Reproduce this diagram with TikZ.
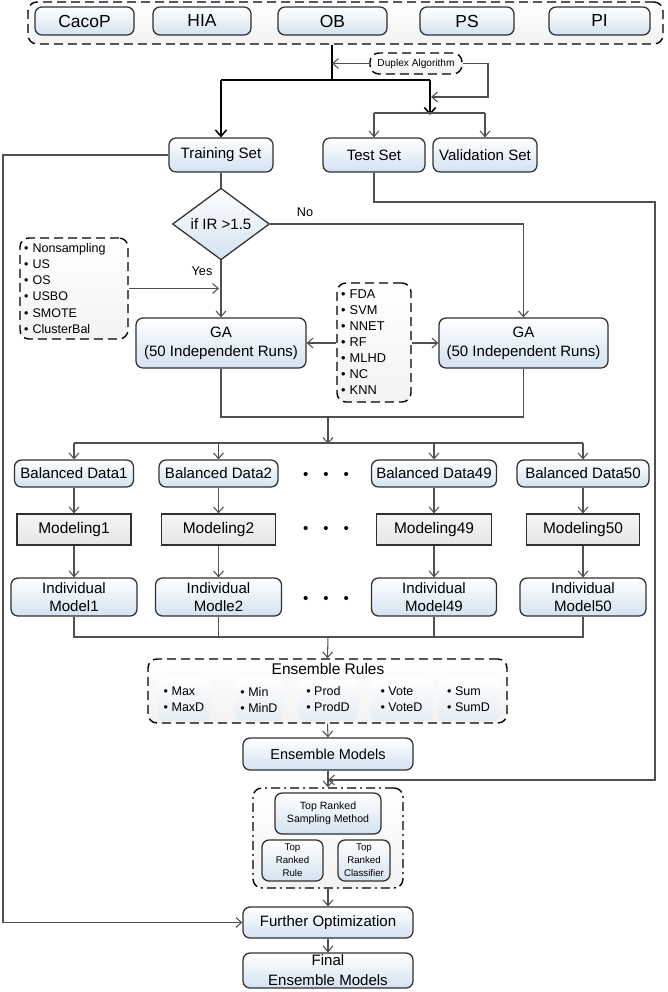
\documentclass[tikz,border=0pt]{standalone}
\usepackage{fontspec}
\setmainfont{Liberation Sans}
\usetikzlibrary{shapes.geometric,arrows.meta}
\newlength\pxu
\setlength\pxu{0.025cm}
\definecolor{boxblue}{HTML}{D3E2F1}
\definecolor{boxgray}{HTML}{E6E6E6}
\definecolor{cellblue}{HTML}{E4ECF4}
\definecolor{linegray}{HTML}{505050}
\definecolor{edgedark}{HTML}{303030}
\tikzset{
  sz/.style 2 args={minimum width=#1\pxu,minimum height=#2\pxu},
  blockbox/.style={draw=edgedark,line width=0.9pt,rounded corners=7\pxu,
    top color=white,bottom color=boxblue,inner sep=0pt,align=center,
    font=\fontsize{10.7}{12.8}\selectfont},
  modelbox/.style={draw=edgedark,line width=0.9pt,top color=white!60!boxgray,
    bottom color=boxgray,inner sep=0pt,font=\fontsize{11}{13}\selectfont},
  groupbox/.style={draw=black,line width=1pt,dash pattern=on 9\pxu off 5\pxu,
    rounded corners=9\pxu,top color=white,bottom color=gray!10,inner sep=0pt},
  listbox/.style={groupbox,align=left,inner xsep=4\pxu,
    font=\fontsize{8.9}{11.4}\selectfont},
  rulecell/.style={rounded corners=7\pxu,top color=white,bottom color=cellblue,
    inner sep=0pt,align=left,font=\fontsize{8.9}{11.4}\selectfont},
  decision/.style={diamond,draw=edgedark,line width=0.9pt,top color=white,
    bottom color=boxblue,inner sep=0pt,font=\fontsize{10.7}{12.8}\selectfont},
  dotrow/.style={inner sep=0pt,font=\fontsize{10.7}{12.8}\selectfont},
  tag/.style={inner sep=0pt,font=\fontsize{9}{11}\selectfont},
  link/.style={draw=linegray,line width=0.75pt},
  arr/.style={link,-{Straight Barb[length=4pt,width=7pt]}},
  mainlink/.style={draw=black,line width=1.1pt},
  mainarr/.style={mainlink,-{Straight Barb[length=4.5pt,width=8pt]}}
}
\newcommand{\dotsgap}{\textbullet\hskip 15\pxu\textbullet\hskip 15\pxu\textbullet}
\begin{document}
\begin{tikzpicture}[x=0.025cm,y=-0.025cm]
  \useasboundingbox (0,0) rectangle (667,992);
  \draw
    (345.5,23) node[groupbox,sz={635}{42}] (datasets){}
    (84.5,21) node[blockbox,sz={99}{28},font=\fontsize{12.4}{14}\selectfont] (cacop){CacoP}
    (202,21) node[blockbox,sz={98}{28},font=\fontsize{12.4}{14}\selectfont] (hia){HIA}
    (332.5,21) node[blockbox,sz={109}{28},font=\fontsize{12.4}{14}\selectfont] (ob){OB}
    (467,21) node[blockbox,sz={94}{28},font=\fontsize{12.4}{14}\selectfont] (ps){PS}
    (599.5,21) node[blockbox,sz={101}{28},font=\fontsize{12.4}{14}\selectfont] (pi){PI};
  \draw
    (416,63.5) node[groupbox,sz={92}{21},font=\fontsize{7.2}{8.5}\selectfont] (duplex){Duplex Algorithm}
    (221,155) node[blockbox,sz={104}{34}] (training){Training Set}
    (374,155) node[blockbox,sz={102}{34}] (test){Test Set}
    (485,155) node[blockbox,sz={104}{34}] (validation){Validation Set}
    (221,224) node[decision,sz={97}{65}] (ifir){if IR >1.5}
    (305,212) node[tag] (nolabel){No}
    (202,271) node[tag] (yeslabel){Yes};
  \draw
    (74,288.5) node[listbox,sz={108}{101},text width=100\pxu] (sampling){%
      \textbullet\ Nonsampling\\\textbullet\ US\\\textbullet\ OS\\%
      \textbullet\ USBO\\\textbullet\ SMOTE\\\textbullet\ ClusterBal}
    (374,342.5) node[listbox,sz={74}{119},text width=66\pxu,
      font=\fontsize{9.1}{11.4}\selectfont] (classifier){%
      \textbullet\ FDA\\\textbullet\ SVM\\\textbullet\ NNET\\\textbullet\ RF\\%
      \textbullet\ MLHD\\\textbullet\ NC\\\textbullet\ KNN}
    (221,343) node[blockbox,sz={170}{50},font=\fontsize{10.7}{13.5}\selectfont] (gaL){GA\\(50 Independent Runs)}
    (523.5,343) node[blockbox,sz={169}{50},font=\fontsize{10.7}{13.5}\selectfont] (gaR){GA\\(50 Independent Runs)};
  \draw
    (74,473.5) node[blockbox,sz={119}{27}] (bd1){Balanced Data1}
    (218.5,473.5) node[blockbox,sz={119}{27}] (bd2){Balanced Data2}
    (434,473.5) node[blockbox,sz={125}{27}] (bd49){Balanced Data49}
    (583,473.5) node[blockbox,sz={132}{27}] (bd50){Balanced Data50}
    (74,529.5) node[modelbox,sz={114}{31}] (mod1){Modeling1}
    (218.5,529.5) node[modelbox,sz={114}{31}] (mod2){Modeling2}
    (434,529.5) node[modelbox,sz={115}{31}] (mod49){Modeling49}
    (583,529.5) node[modelbox,sz={113}{31}] (mod50){Modeling50}
    (74,597) node[blockbox,sz={126}{38}] (ind1){Individual\\Model1}
    (218.5,597) node[blockbox,sz={126}{38}] (ind2){Individual\\Modle2}
    (434,597) node[blockbox,sz={125}{38}] (ind49){Individual\\Model49}
    (583,597) node[blockbox,sz={126}{38}] (ind50){Individual\\Model50}
    (326,476) node[dotrow] (dotsbd){\dotsgap}
    (326,530) node[dotrow] (dotsmod){\dotsgap}
    (326,600) node[dotrow] (dotsind){\dotsgap};
  \draw
    (327.5,691) node[groupbox,sz={359}{64}] (rules){}
    (328,669) node[inner sep=0pt,font=\fontsize{11}{13}\selectfont] (rulestitle){Ensemble Rules}
    (184,699.5) node[rulecell,sz={54}{43}] (rmax){\textbullet\ Max\\\textbullet\ MaxD}
    (259,699.5) node[rulecell,sz={48}{43}] (rmin){\textbullet\ Min\\\textbullet\ MinD}
    (328,699.5) node[rulecell,sz={60}{43}] (rprod){\textbullet\ Prod\\\textbullet\ ProdD}
    (401.5,699.5) node[rulecell,sz={63}{43}] (rvote){\textbullet\ Vote\\\textbullet\ VoteD}
    (468.5,699.5) node[rulecell,sz={63}{43}] (rsum){\textbullet\ Sum\\\textbullet\ SumD}
    (328,754) node[blockbox,sz={170}{32},font=\fontsize{10.3}{12.5}\selectfont] (emodels){Ensemble Models}
    (328,838) node[groupbox,sz={150}{100},dash pattern=on 9\pxu off 4\pxu on 2\pxu off 4\pxu] (ranked){}
    (328,813.5) node[blockbox,sz={106}{41},font=\fontsize{7.5}{9.2}\selectfont] (trsm){Top Ranked\\Sampling Method}
    (292.5,860.5) node[blockbox,sz={61}{41},font=\fontsize{6.9}{9.2}\selectfont] (trr){Top\\Ranked\\Rule}
    (364,860.5) node[blockbox,sz={52}{41},font=\fontsize{6.9}{9.2}\selectfont] (trc){Top\\Ranked\\Classifier}
    (328,922.5) node[blockbox,sz={170}{31}] (further){Further Optimization}
    (328,970.5) node[blockbox,sz={170}{35},font=\fontsize{10.7}{14.2}\selectfont] (final){Final\\Ensemble Models};
  \coordinate (split) at (332,80);
  \coordinate (splitR) at (430,80);
  \coordinate (testsplit) at (430,113);
  \coordinate (dupx) at (488,97);
  \coordinate (leftrail) at (3,155);
  \coordinate (testturn) at (655,202);
  \coordinate (rankin) at (328,780);
  \coordinate (gajoin) at (328,417);
  \coordinate (bdsplit) at (328,443);
  \coordinate (indjoin) at (328,637);
  \begin{scope}[mainlink]
    \draw (datasets.south -| split) to (split);
    \draw (training |- split) to (splitR);
    \draw[mainarr] (training |- split) to (training.north);
    \draw[mainarr] (splitR) to ([yshift=-2\pxu]testsplit);
  \end{scope}
  \begin{scope}[link]
    \draw[arr] (duplex.west) to (duplex.west -| split);
    \draw[arr] (duplex.east) -| (dupx) -- ([xshift=1\pxu]dupx -| splitR);
    \draw (test |- testsplit) to (validation |- testsplit);
    \draw[arr] (test |- testsplit) to (test.north);
    \draw[arr] (validation |- testsplit) to (validation.north);
    \draw[arr] (training.west) -- (leftrail) |- (further.west);
    \draw[arr] (test.south) |- (testturn) |- (rankin);
    \draw (training.south) to (ifir.north);
    \draw[arr] (ifir.east) -| (gaR.north);
    \draw[arr] (ifir.south) to (gaL.north);
    \draw[arr] (sampling.east) to ([xshift=-2\pxu]sampling.east -| gaL);
    \draw[arr] (classifier.west |- gaL.east) to (gaL.east);
    \draw[arr] (classifier.east |- gaR.west) to (gaR.west);
    \draw (gaL.south) |- (gajoin) -| (gaR.south);
    \draw[arr] (gajoin) to ([yshift=-1\pxu]bdsplit);
    \draw (bd1 |- bdsplit) to (bd50 |- bdsplit);
    \draw[arr] (bd1 |- bdsplit) to (bd1.north);
    \draw[arr] (bd2 |- bdsplit) to (bd2.north);
    \draw[arr] (bd49 |- bdsplit) to (bd49.north);
    \draw[arr] (bd50 |- bdsplit) to (bd50.north);
    \draw[arr] (bd1.south) to (mod1.north);
    \draw[arr] (bd2.south) to (mod2.north);
    \draw[arr] (bd49.south) to (mod49.north);
    \draw[arr] (bd50.south) to (mod50.north);
    \draw[arr] (mod1.south) to (ind1.north);
    \draw[arr] (mod2.south) to (ind2.north);
    \draw[arr] (mod49.south) to (ind49.north);
    \draw[arr] (mod50.south) to (ind50.north);
    \draw (ind1.south) |- (indjoin) -| (ind50.south);
    \draw (ind2.south) to (ind2.south |- indjoin);
    \draw (ind49.south) to (ind49.south |- indjoin);
    \draw[arr] (indjoin) to (rules.north);
    \draw[arr] (rules.south) to (emodels.north);
    \draw[arr] (emodels.south) to (ranked.north);
    \draw[arr] (ranked.south) to (further.north);
    \draw[arr] (further.south) to (final.north);
  \end{scope}
\end{tikzpicture}
\end{document}
